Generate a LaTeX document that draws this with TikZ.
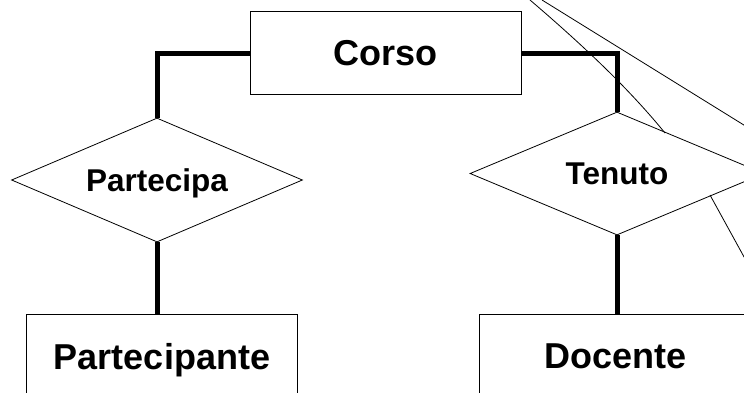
\documentclass[tikz,border=0pt]{standalone}
\usepackage{fontspec}
\setmainfont{Liberation Sans}
\usetikzlibrary{shapes.geometric}
\begin{document}
\begin{tikzpicture}[x=1pt,y=-1pt,
  entity/.style={draw,line width=1pt,minimum width=271pt,minimum height=83pt,inner sep=0pt,
    font=\fontsize{36}{40}\selectfont\bfseries,text depth=0pt},
  relation/.style={draw,diamond,aspect=2.35,line width=0.8pt,minimum width=291pt,minimum height=124pt,inner sep=0pt,
    font=\fontsize{31.5}{36}\selectfont\bfseries,text depth=0pt},
  link/.style={line width=5pt},
  stray/.style={line width=0.8pt}]
\useasboundingbox (0,0) rectangle (744,392);
\clip (0,0) rectangle (744,392);
\fill[white] (0,0) rectangle (744,392);
% entities
\node[entity] (corso) at (385.5,53) {Corso};
\node[entity] (partecipante) at (162,356) {Partecipante};
\node[entity,minimum width=273pt] (docente) at (615.5,356) {Docente};
% relationships
\node[relation] (partecipa) at (157,180) {Partecipa};
\node[relation,minimum width=294pt,minimum height=123pt] (tenuto) at (617,173.5) {Tenuto};
% connectors
\draw[link] (corso.west) -| (partecipa.north);
\draw[link] (partecipa.south) -- (partecipa.south |- partecipante.north);
\draw[link] (corso.east) -| (tenuto.north);
\draw[link] (tenuto.south) -- (tenuto.south |- docente.north);
% stray thin lines entering from outside
\coordinate (a0) at (530,0);
\coordinate (a1) at (665,133);
\coordinate (b0) at (542,0);
\coordinate (b1) at (760,135);
\coordinate (c0) at (710,195);
\coordinate (c1) at (760,286);
\draw[stray] (a0) .. controls (585,47) and (630,90) .. (a1);
\draw[stray] (b0) -- (b1);
\draw[stray] (c0) -- (c1);
\end{tikzpicture}
\end{document}
